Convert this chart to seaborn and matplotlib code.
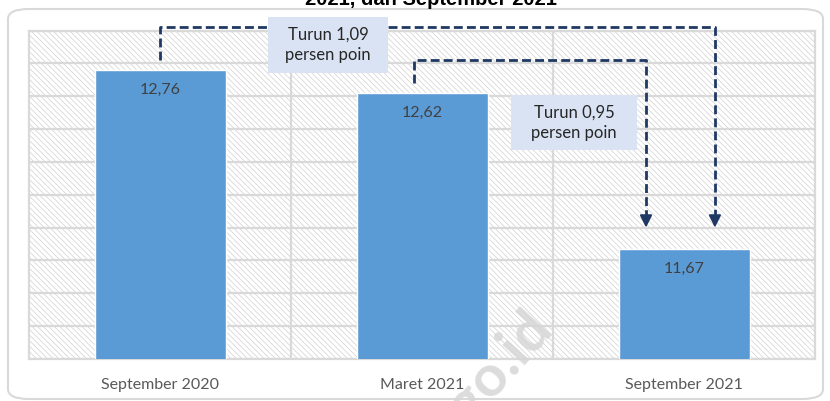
import matplotlib
matplotlib.use("Agg")
import matplotlib.pyplot as plt
from matplotlib.patches import Rectangle, FancyBboxPatch
import seaborn as sns
import pandas as pd

periods = ["September 2020", "Maret 2021", "September 2021"]
values = [12.76, 12.62, 11.67]
value_labels = ["12,76", "12,62", "11,67"]
drop_labels = ["Turun 1,09\npersen poin", "Turun 0,95\npersen poin"]
title_text = "2021, dan September 2021"

sns.set_theme(style="white")
plt.rcParams["font.family"] = ["Lato", "DejaVu Sans"]
plt.rcParams["hatch.linewidth"] = 0.5
plt.rcParams["hatch.color"] = "#d0d0d0"

bar_color = "#5b9bd5"
grid_color = "#d9d9d9"
navy = "#1f3864"

df = pd.DataFrame({"period": periods, "value": values})

fig = plt.figure(figsize=(8.30, 4.01), dpi=100)
ax = fig.add_axes([29 / 830, 42 / 401, 786 / 830, 328.5 / 401])
ax.set_zorder(2)

# rounded frame around the chart
frame = FancyBboxPatch((8 / 830, 2 / 401), 815 / 830, 390 / 401,
                       boxstyle="round,pad=0,rounding_size=0.025",
                       transform=fig.transFigure, facecolor="none",
                       edgecolor="#d9d9d9", linewidth=1.5, zorder=-1)
fig.patches.append(frame)

# hatched plot background
ax.set_facecolor("white")
ax.add_patch(Rectangle((0, 0), 1, 1, transform=ax.transAxes, facecolor="white",
                       edgecolor="#d0d0d0", hatch="\\" * 6, linewidth=0, zorder=0))

sns.barplot(data=df, x="period", y="value", color=bar_color, width=0.5,
            saturation=1, ax=ax, zorder=3)

ax.set_ylim(11, 13)
ax.set_xlim(-0.5, 2.5)
ax.set_yticks([11 + 0.2 * i for i in range(11)])
ax.yaxis.grid(True, color=grid_color, linewidth=1.6, zorder=1)
ax.set_axisbelow(True)
for xv in [0.5, 1.5]:
    ax.axvline(xv, color=grid_color, linewidth=1.6, zorder=1)
for side in ["left", "right", "top", "bottom"]:
    ax.spines[side].set_visible(True)
    ax.spines[side].set_color(grid_color)
    ax.spines[side].set_linewidth(1.6)
ax.tick_params(axis="y", left=False, labelleft=False)
ax.tick_params(axis="x", bottom=False, labelsize=11.5, labelcolor="#595959", pad=8)
ax.set_xlabel("")
ax.set_ylabel("")

# value labels inside the bars
for i, (v, lab) in enumerate(zip(values, value_labels)):
    ax.text(i, v - 0.12, lab, ha="center", va="center", fontsize=11.5,
            color="#404040", zorder=5)

# dashed connectors between periods
def connector(x0, y0, ytop, x1, y1):
    ax.plot([x0, x0, x1, x1], [y0, ytop, ytop, y1 + 0.06], color=navy,
            linewidth=2, linestyle=(0, (3.2, 1.5)), clip_on=False, zorder=6,
            solid_capstyle="butt", dash_capstyle="butt")
    ax.annotate("", xy=(x1, y1), xytext=(x1, y1 + 0.065),
                arrowprops=dict(arrowstyle="-|>,head_length=0.6,head_width=0.3",
                                color=navy, linewidth=1.5, shrinkA=0, shrinkB=0),
                annotation_clip=False, zorder=6)

tip = values[2] + 0.13
connector(0, values[0] + 0.06, 13.02, 2.118, tip)
connector(0.97, values[1] + 0.06, 12.82, 1.855, tip)

# text boxes with the changes
box_fill = "#dae3f3"
for (x0, x1, y0, y1), lab in zip([(0.412, 0.870, 12.739, 13.085),
                                  (1.340, 1.822, 12.270, 12.605)], drop_labels):
    ax.add_patch(Rectangle((x0, y0), x1 - x0, y1 - y0, facecolor=box_fill,
                           edgecolor="none", zorder=7, clip_on=False))
    ax.text((x0 + x1) / 2, (y0 + y1) / 2, lab, ha="center", va="center",
            fontsize=12, color="#262626", zorder=8, linespacing=1.35)

# title (continues above the visible area)
fig.text(431 / 830, (401 - 5) / 401, title_text, ha="center", va="baseline",
         fontsize=14.5, fontweight="bold", family=["Liberation Sans", "DejaVu Sans"],
         color="black", zorder=5)

# faint watermark
fig.text(522 / 830, (401 - 300) / 401, "bps.go.id", ha="right", va="top",
         rotation=48, rotation_mode="anchor", fontsize=42, fontweight="bold",
         color="#d6d6d6", alpha=0.85, zorder=10)

fig.savefig("out.png", dpi=100)
